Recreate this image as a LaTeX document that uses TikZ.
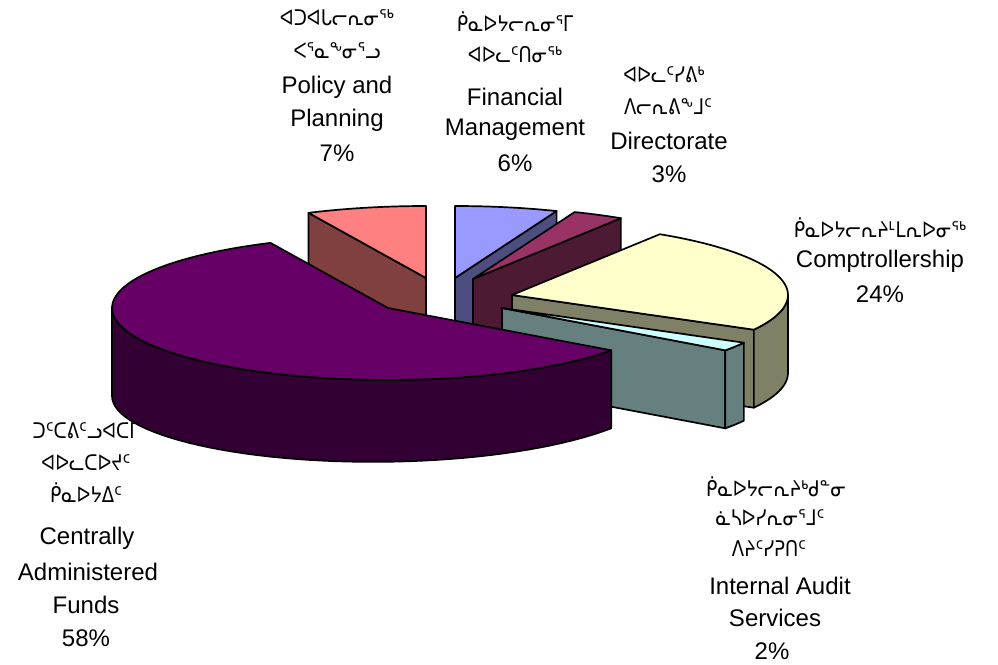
\documentclass[tikz,border=0pt]{standalone}
\usepackage{fontspec}
\setmainfont{Liberation Sans}
\newfontfamily\sylfont{DejaVu Sans}
\usetikzlibrary{calc}

\definecolor{plumtop}{HTML}{660066}
\definecolor{plumside}{HTML}{330033}
\definecolor{salmontop}{HTML}{FF8080}
\definecolor{salmonside}{HTML}{804040}
\definecolor{periwinkletop}{HTML}{9999FF}
\definecolor{periwinkleside}{HTML}{4D4D80}
\definecolor{winetop}{HTML}{993366}
\definecolor{wineside}{HTML}{4D1A33}
\definecolor{creamtop}{HTML}{FFFFCC}
\definecolor{creamside}{HTML}{808066}
\definecolor{icetop}{HTML}{CCFFFF}
\definecolor{iceside}{HTML}{668080}

% syllabics line, set a little taller than DejaVu's natural proportions
\newcommand\sylline[1]{\scalebox{1}[1.2]{\sylfont\fontsize{18}{21}\selectfont #1}}

\begin{document}
\begin{tikzpicture}[x=1pt,y=-1pt]
\useasboundingbox (0,0) rectangle (998,664);
\tikzset{
  face/.style={draw=black, line width=1.7pt, line join=round},
  lat/.style={font=\fontsize{24}{28}\selectfont, inner sep=0pt},
  syl/.style={inner sep=0pt},
}
% half axes of the pie ellipse
\def\ra{276}\def\rb{72}

% ---- Policy and Planning, 7% (334.8 -- 360)
\coordinate (pC) at (426,278);
\coordinate (pA) at ({426+\ra*sin(334.8)},{278-\rb*cos(334.8)});
\filldraw[face, fill=salmonside] (pC) -- (pA) -- ++(0,82) -- ($(pC)+(0,82)$) -- cycle;
\filldraw[face, fill=salmontop] (pC) -- plot[domain=334.8:360, samples=20] ({426+\ra*sin(\x)},{278-\rb*cos(\x)}) -- cycle;

% ---- Financial Management, 6% (0 -- 21.6)
\coordinate (fC) at (455,278);
\coordinate (fB) at ({455+\ra*sin(21.6)},{278-\rb*cos(21.6)});
\filldraw[face, fill=periwinkleside] (fC) -- (fB) -- ++(0,80) -- ($(fC)+(0,80)$) -- cycle;
\filldraw[face, fill=periwinkletop] (fC) -- plot[domain=0:21.6, samples=20] ({455+\ra*sin(\x)},{278-\rb*cos(\x)}) -- cycle;

% ---- Directorate, 3% (21.6 -- 32.4)
\coordinate (dC) at (473,279);
\coordinate (dB) at ({473+\ra*sin(32.4)},{279-\rb*cos(32.4)});
\filldraw[face, fill=wineside] (dC) -- (dB) -- ++(0,80) -- ($(dC)+(0,80)$) -- cycle;
\filldraw[face, fill=winetop] (dC) -- plot[domain=21.6:32.4, samples=12] ({473+\ra*sin(\x)},{279-\rb*cos(\x)}) -- cycle;

% ---- Comptrollership, 24% (32.4 -- 118.8)
\coordinate (cC) at (512,295);
\coordinate (cB) at ({512+\ra*sin(118.8)},{295-\rb*cos(118.8)});
\filldraw[face, fill=creamside] (cC) -- (cB) -- ++(0,78) -- ($(cC)+(0,78)$) -- cycle;
\filldraw[face, fill=creamside]
  plot[domain=90:118.8, samples=15] ({512+\ra*sin(\x)},{295-\rb*cos(\x)})
  -- plot[domain=118.8:90, samples=15] ({512+\ra*sin(\x)},{295-\rb*cos(\x)+78}) -- cycle;
\filldraw[face, fill=creamtop] (cC) -- plot[domain=32.4:118.8, samples=40] ({512+\ra*sin(\x)},{295-\rb*cos(\x)}) -- cycle;

% ---- Internal Audit Services, 2% (118.8 -- 126)
\coordinate (iC) at (502,308);
\coordinate (iB) at ({502+\ra*sin(126)},{308-\rb*cos(126)});
\filldraw[face, fill=iceside] (iC) -- (iB) -- ++(0,78) -- ($(iC)+(0,78)$) -- cycle;
\filldraw[face, fill=iceside]
  plot[domain=118.8:126, samples=6] ({502+\ra*sin(\x)},{308-\rb*cos(\x)})
  -- plot[domain=126:118.8, samples=6] ({502+\ra*sin(\x)},{308-\rb*cos(\x)+78}) -- cycle;
\filldraw[face, fill=icetop] (iC) -- plot[domain=118.8:126, samples=6] ({502+\ra*sin(\x)},{308-\rb*cos(\x)}) -- cycle;

% ---- Centrally Administered Funds, 58% (126 -- 334.8)
\coordinate (mC) at (388,308);
\filldraw[face, fill=plumside]
  plot[domain=126:270, samples=50] ({388+\ra*sin(\x)},{308-\rb*cos(\x)})
  -- plot[domain=270:126, samples=50] ({388+\ra*sin(\x)},{308-\rb*cos(\x)+78+10*(\x-126)/144}) -- cycle;
\filldraw[face, fill=plumtop] (mC) -- plot[domain=126:334.8, samples=70] ({388+\ra*sin(\x)},{308-\rb*cos(\x)}) -- cycle;

% ---- labels
\node[syl] (pp1) at (337,18) {\sylline{ᐊᑐᐊᒐᓕᕆᓂᖅ}};
\node[syl] (pp2) at (337,51) {\sylline{ᐸᕐᓇᖕᓂᕐᓗ}};
\node[lat] (pp3) at (337,87) {Policy and};
\node[lat] (pp4) at (337,120) {Planning};
\node[lat] (pp5) at (337,153) {7\%};

\node[syl] (fm1) at (515,22) {\sylline{ᑮᓇᐅᔭᓕᕆᓂᕐᒥ}};
\node[syl] (fm2) at (515,55) {\sylline{ᐊᐅᓚᑦᑎᓂᖅ}};
\node[lat] (fm3) at (515,97) {Financial};
\node[lat] (fm4) at (515,130) {Management};
\node[lat] (fm5) at (515,163) {6\%};

\node[syl] (dr1) at (664,75) {\sylline{ᐊᐅᓚᑦᓯᕕᒃ}};
\node[syl] (dr2) at (668,107) {\sylline{ᐱᓕᕆᕕᖕᒧᑦ}};
\node[lat] (dr3) at (669,141) {Directorate};
\node[lat] (dr4) at (669,174) {3\%};

\node[syl] (cp1) at (880,228) {\sylline{ᑮᓇᐅᔭᓕᕆᔨᒻᒪᕆᐅᓂᖅ}};
\node[lat] (cp2) at (880,261) {Comptrollership};
\node[lat] (cp3) at (880,294) {24\%};

\node[syl] (ia1) at (776,487) {\sylline{ᑮᓇᐅᔭᓕᕆᔨᒃᑯᓐᓂ}};
\node[syl] (ia2) at (770,518) {\sylline{ᓈᓴᐅᓯᕆᓂᕐᒧᑦ}};
\node[syl] (ia3) at (769,548) {\sylline{ᐱᔨᑦᓯᕈᑎᑦ}};
\node[lat] (ia4) at (780,586) {Internal Audit};
\node[lat] (ia5) at (775,618) {Services};
\node[lat] (ia6) at (772,651) {2\%};

\node[syl] (ca1) at (86,431) {\sylline{ᑐᑦᑕᕕᑦᓗᐊᑕᒥ}};
\node[syl] (ca2) at (86,463) {\sylline{ᐊᐅᓚᑕᐅᔪᑦ}};
\node[syl] (ca3) at (86,493) {\sylline{ᑮᓇᐅᔭᐃᑦ}};
\node[lat] (ca4) at (87,538) {Centrally};
\node[lat] (ca5) at (88,572) {Administered};
\node[lat] (ca6) at (86,605) {Funds};
\node[lat] (ca7) at (86,638) {58\%};
\end{tikzpicture}
\end{document}
